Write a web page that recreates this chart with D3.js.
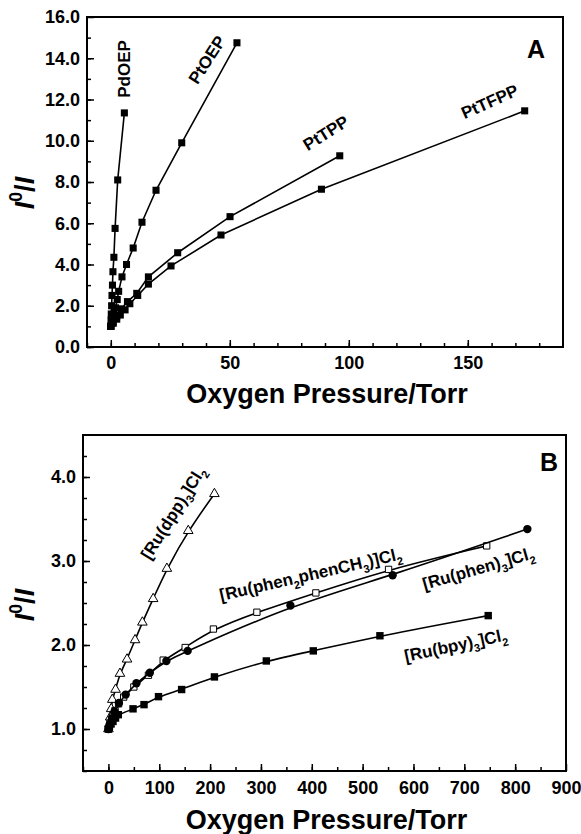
<!DOCTYPE html>
<html>
<head>
<meta charset="utf-8">
<title>oxygen quenching</title>
<script src="https://cdn.jsdelivr.net/npm/d3@7"></script>
<style>
  body { margin: 0; background: #fff; }
  text { font-family: "Liberation Sans", Arial, sans-serif; font-weight: bold; fill: #000; }
</style>
</head>
<body>
<script>
var width = 581, height = 834;

// ---- panel A : porphyrins (x = Torr, y = I0/I)
var pdoepX  = [0, 0.1, 0.2, 0.35, 0.5, 0.7, 0.9, 1.3, 1.8, 2.9, 5.7];
var pdoepY  = [1.0, 1.3, 1.6, 2.0, 2.5, 3.0, 3.65, 4.35, 5.75, 8.1, 11.35];
var ptoepX  = [0, 0.6, 1.2, 2.0, 2.7, 3.3, 4.7, 6.6, 9.4, 13.1, 19.0, 29.8, 53];
var ptoepY  = [1.0, 1.3, 1.6, 1.9, 2.3, 2.7, 3.4, 4.0, 4.8, 6.05, 7.6, 9.9, 14.75];
var pttppX  = [0, 1, 2.5, 4.5, 7, 10.9, 15.8, 28.1, 50.1, 96.2];
var pttppY  = [1.0, 1.2, 1.5, 1.85, 2.2, 2.6, 3.4, 4.57, 6.32, 9.27];
var pttfppX = [0, 1, 2.5, 4, 6, 8, 11.3, 15.8, 25.3, 46.3, 88.5, 173.9];
var pttfppY = [1.0, 1.15, 1.35, 1.55, 1.8, 2.1, 2.5, 3.05, 3.93, 5.43, 7.65, 11.45];

var aXTicks = [0, 50, 100, 150];
var aYTicks = [0, 2, 4, 6, 8, 10, 12, 14, 16];

// ---- panel B : Ru complexes
var dppX   = [0, 2, 3.5, 5.5, 7.6, 14, 22.7, 36.6, 52.4, 66.8, 88, 115, 157, 208.5];
var dppY   = [1.0, 1.06, 1.14, 1.24, 1.35, 1.47, 1.66, 1.83, 2.06, 2.27, 2.55, 2.91, 3.36, 3.80];
var phenX  = [0, 3, 7, 12, 20.7, 34, 55, 81.4, 114, 155.8, 358, 559, 824];
var phenY  = [1.0, 1.06, 1.13, 1.21, 1.31, 1.41, 1.545, 1.67, 1.81, 1.93, 2.47, 2.83, 3.38];
var phen2X = [0, 3, 8, 13, 20, 30, 50, 78.7, 107.7, 151, 206.5, 292, 408, 551, 744];
var phen2Y = [1.0, 1.07, 1.15, 1.22, 1.3, 1.38, 1.5, 1.64, 1.82, 1.97, 2.19, 2.39, 2.62, 2.90, 3.18];
var bpyX   = [0, 2, 5, 9, 14, 19.4, 48.4, 70, 98.5, 144, 208.5, 310.6, 403, 534, 747];
var bpyY   = [1.0, 1.03, 1.06, 1.09, 1.13, 1.17, 1.24, 1.29, 1.385, 1.47, 1.62, 1.81, 1.93, 2.11, 2.35];

var bXTicks = [0, 100, 200, 300, 400, 500, 600, 700, 800, 900];
var bYTicks = [1, 2, 3, 4];

var svg = d3.select("body").append("svg").attr("width", width).attr("height", height);

function zip(xs, ys) { return xs.map(function(v, i) { return [v, ys[i]]; }); }

// text with sub/superscripts; parts = [[str, "sub"|"sup"|"", style], ...]
function richText(g, parts, size) {
    var t = g.append("text").attr("text-anchor", "middle").style("font-size", size + "px");
    var shift = 0;
    parts.forEach(function(p) {
        var target = p[1] == "sub" ? size * 0.3 : p[1] == "sup" ? -size * 0.45 : 0;
        t.append("tspan")
            .attr("dy", target - shift)
            .style("font-size", p[1] ? (size * 0.65) + "px" : size + "px")
            .style("font-style", p[2] || null)
            .text(p[0]);
        shift = target;
    });
    return t;
}

function drawPanel(p) {
    var x = d3.scaleLinear().domain(p.xDomain).range([p.left, p.right]);
    var y = d3.scaleLinear().domain(p.yDomain).range([p.bottom, p.top]);
    var g = svg.append("g");

    // ticks, pointing inward
    g.append("g").attr("transform", "translate(0," + p.bottom + ")")
        .call(d3.axisBottom(x).tickValues(p.xMinor).tickSize(-4).tickSizeOuter(0).tickFormat(""));
    g.append("g").attr("transform", "translate(0," + p.bottom + ")")
        .call(d3.axisBottom(x).tickValues(p.xTicks).tickSize(-7).tickSizeOuter(0).tickPadding(p.xPad))
        .selectAll("text").style("font-size", "18px");
    g.append("g").attr("transform", "translate(" + p.left + ",0)")
        .call(d3.axisLeft(y).tickValues(p.yMinor).tickSize(-4).tickSizeOuter(0).tickFormat(""));
    g.append("g").attr("transform", "translate(" + p.left + ",0)")
        .call(d3.axisLeft(y).tickValues(p.yTicks).tickSize(-7).tickSizeOuter(0).tickPadding(7).tickFormat(d3.format(".1f")))
        .selectAll("text").style("font-size", "18px");
    g.selectAll(".domain").remove();
    g.selectAll(".tick line").attr("stroke", "#000").attr("stroke-width", 1.5);

    g.append("rect")
        .attr("x", p.left).attr("y", p.top)
        .attr("width", p.right - p.left).attr("height", p.bottom - p.top)
        .attr("fill", "none").attr("stroke", "#000").attr("stroke-width", 2);

    var line = d3.line().x(function(d) { return x(d[0]); }).y(function(d) { return y(d[1]); }).curve(p.curve);

    p.series.forEach(function(s) {
        var pts = zip(s.x, s.y);
        g.append("path").attr("d", line(pts)).attr("fill", "none").attr("stroke", "#000").attr("stroke-width", 1.6);
        g.selectAll(null).data(pts).enter().append("path")
            .attr("transform", function(d) { return "translate(" + x(d[0]) + "," + y(d[1]) + ")"; })
            .attr("d", d3.symbol().type(s.symbol).size(s.size))
            .attr("fill", s.open ? "#fff" : "#000")
            .attr("stroke", "#000").attr("stroke-width", s.open ? 1 : 0);
        var lg = g.append("g").attr("transform", "translate(" + s.lx + "," + s.ly + ") rotate(" + s.angle + ")");
        richText(lg, s.label, s.fs).attr("dy", "0.35em");
    });

    g.append("text").attr("x", p.letterX).attr("y", p.letterY).attr("text-anchor", "middle")
        .style("font-size", "25px").text(p.letter);

    g.append("text").attr("x", (p.left + p.right) / 2 + 2).attr("y", p.titleY).attr("text-anchor", "middle")
        .style("font-size", "27px").text("Oxygen Pressure/Torr");

    var yl = g.append("g").attr("transform", "translate(" + 34 + "," + p.ylabelY + ") rotate(-90)");
    richText(yl, [["I", "", "italic"], ["0", "sup"], ["/", ""], ["I", "", "italic"]], 27);
}

drawPanel({
    left: 87, right: 563, top: 17, bottom: 347,
    xDomain: [-10, 190], yDomain: [0, 16],
    xTicks: aXTicks, yTicks: aYTicks,
    xMinor: d3.range(-10, 190, 10), yMinor: d3.range(0, 16, 1),
    xPad: 9, curve: d3.curveLinear,
    letter: "A", letterX: 536, letterY: 58, titleY: 403, ylabelY: 193,
    series: [
        { x: pdoepX, y: pdoepY, symbol: d3.symbolSquare, size: 50, label: [["PdOEP", ""]], fs: 17, lx: 130, ly: 69, angle: -90 },
        { x: ptoepX, y: ptoepY, symbol: d3.symbolSquare, size: 50, label: [["PtOEP", ""]], fs: 17, lx: 212, ly: 63, angle: -57 },
        { x: pttppX, y: pttppY, symbol: d3.symbolSquare, size: 50, label: [["PtTPP", ""]], fs: 17, lx: 329, ly: 138, angle: -32 },
        { x: pttfppX, y: pttfppY, symbol: d3.symbolSquare, size: 50, label: [["PtTFPP", ""]], fs: 17, lx: 492, ly: 107, angle: -24 }
    ]
});

drawPanel({
    left: 83, right: 566, top: 435, bottom: 771,
    xDomain: [-50, 900], yDomain: [0.5, 4.5],
    xTicks: bXTicks, yTicks: bYTicks,
    xMinor: d3.range(-50, 900, 50), yMinor: d3.range(0.5, 4.5, 0.25),
    xPad: 10, curve: d3.curveBasis,
    letter: "B", letterX: 549, letterY: 471, titleY: 829, ylabelY: 605,
    series: [
        { x: dppX, y: dppY, symbol: d3.symbolTriangle, size: 40, open: true,
          label: [["[Ru(dpp)", ""], ["3", "sub"], ["]Cl", ""], ["2", "sub"]], fs: 17, lx: 178, ly: 516, angle: -58 },
        { x: phen2X, y: phen2Y, symbol: d3.symbolSquare, size: 40, open: true,
          label: [["[Ru(phen", ""], ["2", "sub"], ["phenCH", ""], ["3", "sub"], [")]Cl", ""], ["2", "sub"]], fs: 17, lx: 312, ly: 580, angle: -13 },
        { x: phenX, y: phenY, symbol: d3.symbolCircle, size: 55,
          label: [["[Ru(phen)", ""], ["3", "sub"], ["]Cl", ""], ["2", "sub"]], fs: 17, lx: 480, ly: 574, angle: -16 },
        { x: bpyX, y: bpyY, symbol: d3.symbolSquare, size: 55,
          label: [["[Ru(bpy)", ""], ["3", "sub"], ["]Cl", ""], ["2", "sub"]], fs: 17, lx: 457, ly: 651, angle: -12 }
    ]
});
</script>
</body>
</html>
